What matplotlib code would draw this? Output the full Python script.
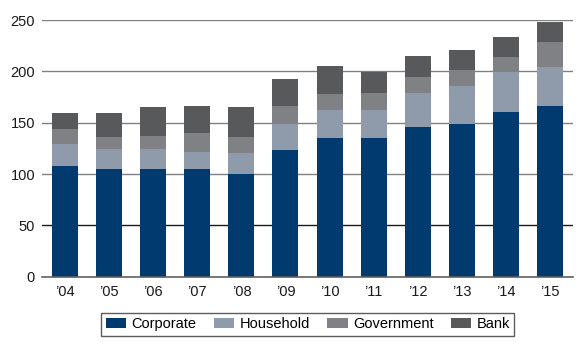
import matplotlib
matplotlib.use("Agg")
import matplotlib.pyplot as plt
import numpy as np

plt.rcParams['font.family'] = ['Liberation Sans', 'DejaVu Sans']

years = ["’04", "’05", "’06", "’07", "’08", "’09", "’10", "’11", "’12", "’13", "’14", "’15"]
corporate = [108, 104.5, 104.5, 104.5, 100.3, 123, 134.7, 134.7, 146, 148.4, 160.4, 166.2]
household = [21.4, 19.5, 19.5, 16.9, 20.5, 25.4, 27.6, 27.6, 32.8, 37.3, 39, 37.7]
government = [14.3, 12.4, 13.3, 18.9, 15.6, 17.8, 15.7, 16.3, 15.3, 15.6, 14.9, 24.7]
bank = [15.5, 22.6, 28.3, 25.9, 29.2, 26.3, 27.5, 20.8, 21.1, 19.8, 18.8, 19.4]

series = [("Corporate", corporate, "#003a6e"),
          ("Household", household, "#8f9aab"),
          ("Government", government, "#808184"),
          ("Bank", bank, "#58595b")]

fig = plt.figure(figsize=(5.83, 3.55), dpi=100)
ax = fig.add_axes([0.072, 0.2206, 0.911, 0.723])

x = np.arange(len(years))
bottom = np.zeros(len(years))
handles = []
for name, vals, col in series:
    b = ax.bar(x, vals, width=0.59, bottom=bottom, color=col, label=name, zorder=3, linewidth=0)
    handles.append(b)
    bottom += np.array(vals)

for yv in [100, 150, 200, 250]:
    ax.axhline(yv, color="#808080", linewidth=1.0, zorder=1)
ax.axhline(50, color="#1a1a1a", linewidth=1.0, zorder=1)

ax.set_xlim(-0.52, 11.52)
ax.set_ylim(0, 250)
ax.set_yticks([0, 50, 100, 150, 200, 250])
ax.set_xticks(x)
ax.set_xticklabels(years)
ax.tick_params(axis='both', length=0, labelsize=10.5, colors="#1a1a1a")
ax.tick_params(axis='y', pad=5)
ax.tick_params(axis='x', pad=6)
for s in ["top", "right", "left"]:
    ax.spines[s].set_visible(False)
ax.spines["bottom"].set_color("#606060")
ax.spines["bottom"].set_linewidth(1.2)
ax.spines["bottom"].set_zorder(4)

leg = fig.legend(handles=handles, loc="center", bbox_to_anchor=(0.528, 0.086), ncol=4,
                 fontsize=10.5, frameon=True, fancybox=False, edgecolor="#333333",
                 handlelength=1.4, handleheight=0.7, columnspacing=1.2,
                 handletextpad=0.35, borderpad=0.3, borderaxespad=0)
leg.get_frame().set_linewidth(1.0)

fig.savefig("out.png", dpi=100)
